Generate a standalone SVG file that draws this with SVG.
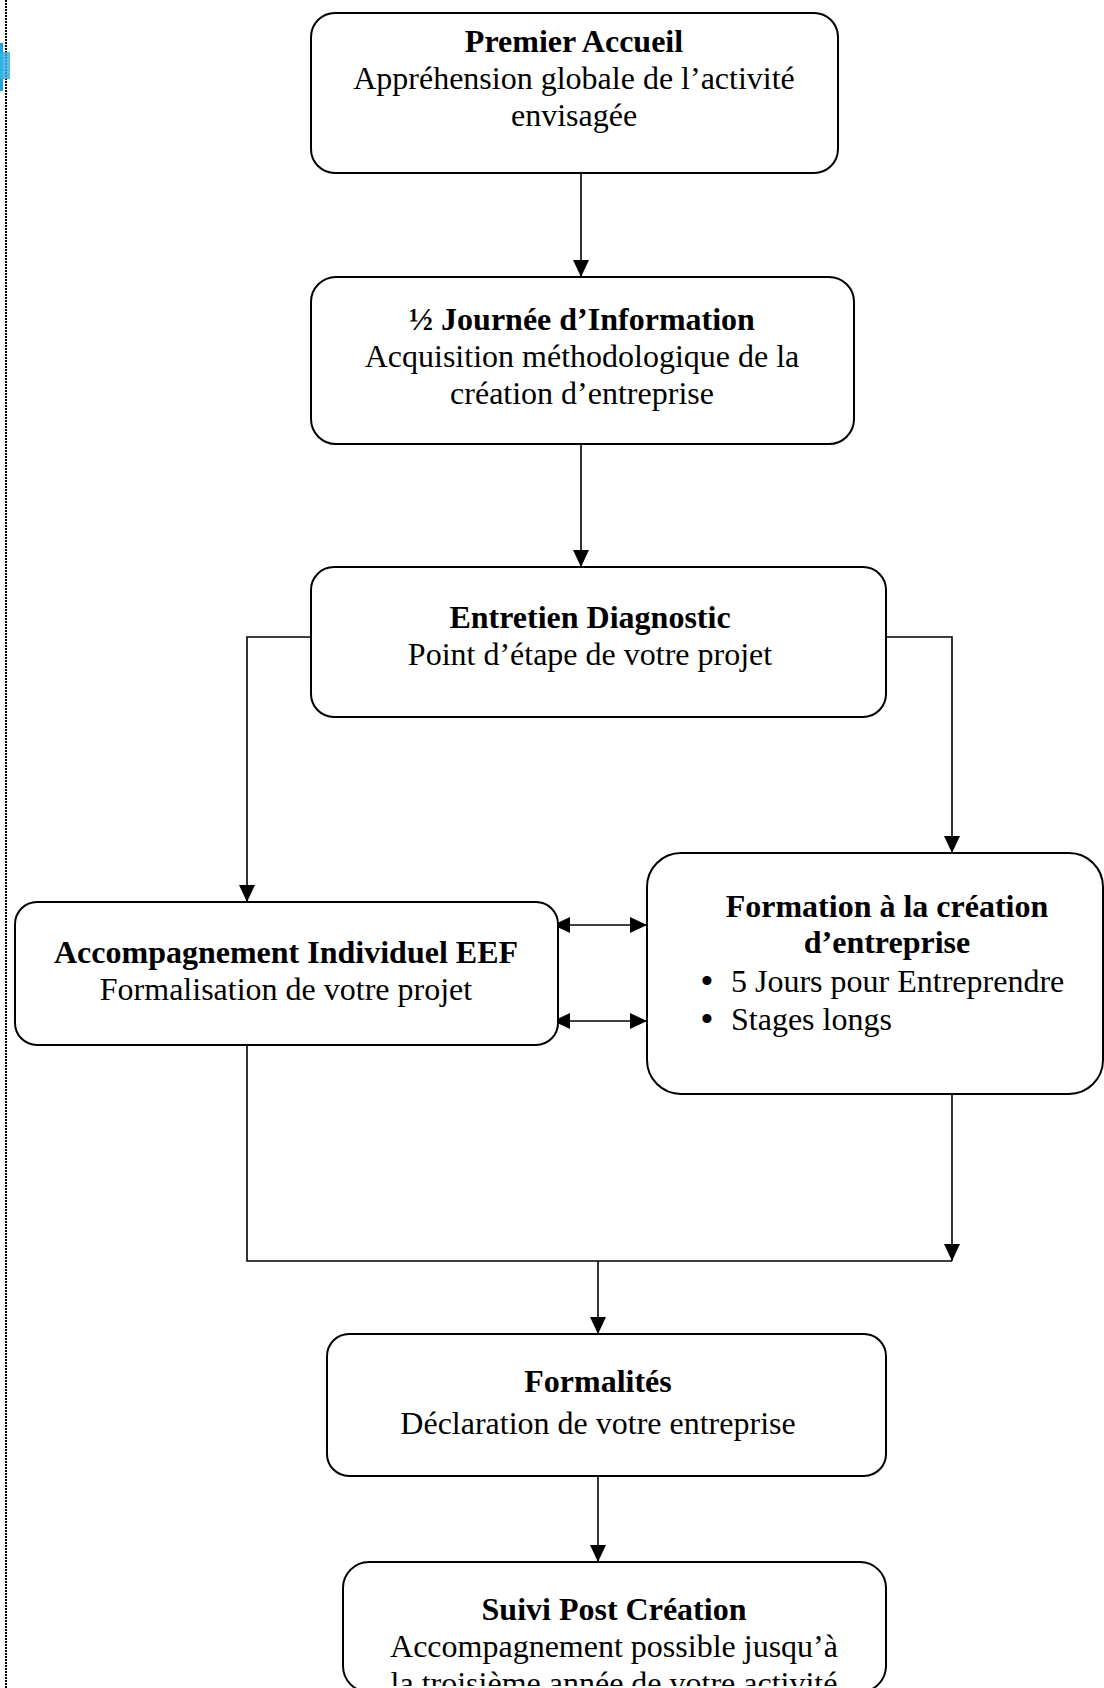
<svg xmlns="http://www.w3.org/2000/svg" width="1104" height="1688" viewBox="0 0 1104 1688">
<style>
.box{fill:#fff;stroke:#000;stroke-width:2}
.t{font-family:"Liberation Serif","Times New Roman",serif;font-size:32px;text-anchor:middle;fill:#000}
.s{text-anchor:start}
.b{font-weight:bold}
.bul{font-family:"Liberation Serif","Times New Roman",serif;font-size:38px;text-anchor:middle;fill:#000}
.c{fill:none;stroke:#000;stroke-width:1.6}
</style>
<defs>
<marker id="ah" viewBox="0 0 17 17" refX="17" refY="8.5" markerWidth="17" markerHeight="17" markerUnits="userSpaceOnUse" orient="auto-start-reverse"><path d="M0,0.5 L17,8.5 L0,16.5 z" fill="#000"/></marker>
<clipPath id="clip7"><rect x="342" y="1562" width="545" height="124"/></clipPath>
</defs>
<rect width="1104" height="1688" fill="#fff"/>
<line x1="6" y1="0" x2="6" y2="1688" stroke="#000" stroke-width="2" stroke-dasharray="2 1"/>
<rect x="0" y="43" width="3" height="48" fill="#1ea6dc"/>
<rect x="0" y="52" width="10" height="27" fill="#3ab2e4" opacity="0.85"/>
<g id="connectors">
<path class="c" d="M581,172 V277" marker-end="url(#ah)"/>
<path class="c" d="M581,444 V567" marker-end="url(#ah)"/>
<path class="c" d="M311,637 H247 V902" marker-end="url(#ah)"/>
<path class="c" d="M886,637 H952 V853" marker-end="url(#ah)"/>
<path class="c" d="M553,925 H647" marker-start="url(#ah)" marker-end="url(#ah)"/>
<path class="c" d="M553,1021 H647" marker-start="url(#ah)" marker-end="url(#ah)"/>
<path class="c" d="M247,1045 V1261 H952"/>
<path class="c" d="M952,1094 V1261" marker-end="url(#ah)"/>
<path class="c" d="M598,1261 V1334" marker-end="url(#ah)"/>
<path class="c" d="M598,1476 V1562" marker-end="url(#ah)"/>
</g>
<g id="premier-accueil">
<rect class="box" x="311" y="13" width="527" height="160" rx="24"/>
<text class="t b" x="574" y="52">Premier Accueil</text>
<text class="t" x="574" y="89">Appréhension globale de l’activité</text>
<text class="t" x="574" y="126">envisagée</text>
</g>
<g id="demi-journee">
<rect class="box" x="311" y="277" width="543" height="167" rx="25"/>
<text class="t b" x="582" y="330">½ Journée d’Information</text>
<text class="t" x="582" y="367">Acquisition méthodologique de la</text>
<text class="t" x="582" y="404">création d’entreprise</text>
</g>
<g id="entretien">
<rect class="box" x="311" y="567" width="575" height="150" rx="23"/>
<text class="t b" x="590" y="628">Entretien Diagnostic</text>
<text class="t" x="590" y="665">Point d’étape de votre projet</text>
</g>
<g id="accompagnement">
<rect class="box" x="15" y="902" width="543" height="143" rx="22"/>
<text class="t b" x="286" y="963">Accompagnement Individuel EEF</text>
<text class="t" x="286" y="1000">Formalisation de votre projet</text>
</g>
<g id="formation">
<rect class="box" x="647" y="853" width="456" height="241" rx="34"/>
<text class="t b" x="887" y="917">Formation à la création</text>
<text class="t b" x="887" y="953">d’entreprise</text>
<text class="bul" x="707" y="994">•</text>
<text class="t s" x="731" y="992">5 Jours pour Entreprendre</text>
<text class="bul" x="707" y="1032">•</text>
<text class="t s" x="731" y="1030">Stages longs</text>
</g>
<g id="formalites">
<rect class="box" x="327" y="1334" width="559" height="142" rx="22"/>
<text class="t b" x="598" y="1392">Formalités</text>
<text class="t" x="598" y="1434">Déclaration de votre entreprise</text>
</g>
<g id="suivi">
<rect class="box" x="343" y="1562" width="543" height="130" rx="26"/>
<g clip-path="url(#clip7)">
<text class="t b" x="614" y="1620">Suivi Post Création</text>
<text class="t" x="614" y="1657">Accompagnement possible jusqu’à</text>
<text class="t" x="614" y="1694">la troisième année de votre activité</text>
</g>
</g>
</svg>
